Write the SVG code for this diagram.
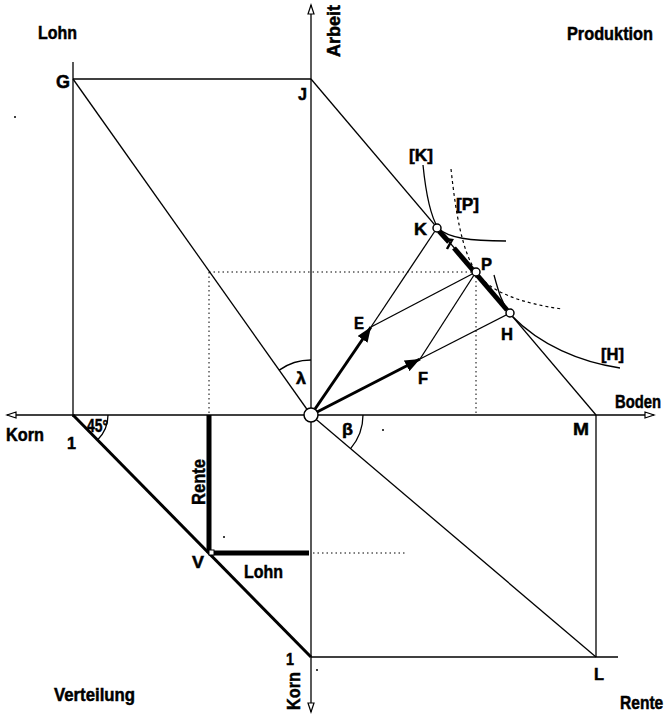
<svg xmlns="http://www.w3.org/2000/svg" width="668" height="714" viewBox="0 0 668 714">
<style>
.ln{stroke:#000;stroke-width:1.3;fill:none}
.th{stroke:#000;stroke-width:3;fill:none}
.tk{stroke:#000;stroke-width:5;fill:none}
.dt{stroke:#000;stroke-width:1;stroke-dasharray:1.5 3;fill:none}
.ds{stroke:#000;stroke-width:1.2;stroke-dasharray:3 3;fill:none}
.pt{fill:#fff;stroke:#000;stroke-width:1.5}
text{font-family:"Liberation Sans",Arial,sans-serif;font-weight:bold;font-size:19px;fill:#000;stroke:#000;stroke-width:0.5}
.sm{font-size:17px}
</style>
<defs>
<marker id="ax" markerWidth="12" markerHeight="10" refX="10" refY="4" orient="auto" markerUnits="userSpaceOnUse">
<path d="M1,1 L10,4 L1,7 Z" fill="#fff" stroke="#000" stroke-width="1.2"/>
</marker>
<marker id="ar" markerWidth="16" markerHeight="12" refX="15" refY="6" orient="auto" markerUnits="userSpaceOnUse">
<path d="M0,0 L15,6 L0,12 Z" fill="#000"/>
</marker>
</defs>
<g id="connectors">
<line class="ln" x1="311" y1="415" x2="311" y2="5" marker-end="url(#ax)"/>
<line class="ln" x1="311" y1="415" x2="311" y2="712" marker-end="url(#ax)"/>
<line class="ln" x1="311" y1="415" x2="7" y2="415" marker-end="url(#ax)"/>
<line class="ln" x1="311" y1="415" x2="654" y2="415" marker-end="url(#ax)"/>
<line class="ln" x1="73" y1="62" x2="73" y2="417"/>
<line class="ln" x1="73" y1="79" x2="311" y2="79"/>
<line class="ln" x1="73" y1="79" x2="311" y2="415"/>
<line class="ln" x1="311" y1="79" x2="596" y2="415"/>
<line class="ln" x1="596" y1="415" x2="596" y2="657"/>
<line class="ln" x1="311" y1="657" x2="618" y2="657"/>
<line class="ln" x1="311" y1="415" x2="596" y2="657"/>
<line class="th" x1="73" y1="415" x2="311" y2="657"/>
<line class="tk" x1="209" y1="415" x2="209" y2="553"/>
<line class="tk" x1="209" y1="553" x2="309" y2="553"/>
<line class="dt" x1="209" y1="272" x2="476" y2="272"/>
<line class="dt" x1="209" y1="272" x2="209" y2="413"/>
<line class="dt" x1="476" y1="272" x2="476" y2="413"/>
<line class="dt" x1="313" y1="553" x2="405" y2="553"/>
<line class="ln" x1="371" y1="327" x2="437" y2="228"/>
<line class="ln" x1="371" y1="327" x2="476" y2="272"/>
<line class="ln" x1="420" y1="359" x2="476" y2="272"/>
<line class="ln" x1="420" y1="359" x2="510" y2="313"/>
<line class="th" x1="315" y1="409" x2="371" y2="327" stroke-width="3.5" marker-end="url(#ar)"/>
<line class="th" x1="317" y1="412" x2="420" y2="359" stroke-width="3.5" marker-end="url(#ar)"/>
<line class="tk" x1="439" y1="231" x2="449" y2="242" stroke-width="5.5"/>
<polyline points="445,239 452,240 447,249" fill="none" stroke="#000" stroke-width="2.5"/>
<line class="tk" x1="454" y1="248" x2="507" y2="310" stroke-width="5.5"/>
<path class="ln" d="M423,165 C426,195 430,215 438,228 C448,238 470,241 506,241"/>
<path class="ds" d="M451,169 C456,215 462,250 476,272 C490,292 520,303 562,309"/>
<path class="ln" d="M494,275 C498,290 502,305 512,316 C540,345 580,362 620,368"/>
<path class="ln" d="M311,360 A55,55 0 0 0 279.2,370.1"/>
<path class="ln" d="M363,415 A52,52 0 0 1 350.6,448.6"/>
<path class="ln" d="M108,415 A35,35 0 0 1 97.7,439.7"/>
</g>
<g id="O"><circle class="pt" cx="311" cy="415" r="7" stroke-width="2.2"/></g>
<g id="K"><circle class="pt" cx="437" cy="228" r="4"/><text class="sm" x="414" y="235" textLength="13" lengthAdjust="spacingAndGlyphs">K</text></g>
<g id="P"><circle class="pt" cx="476" cy="272" r="4"/><text class="sm" x="481" y="270" textLength="11" lengthAdjust="spacingAndGlyphs">P</text></g>
<g id="H"><circle class="pt" cx="510" cy="313" r="4"/><text class="sm" x="501" y="340" textLength="12" lengthAdjust="spacingAndGlyphs">H</text></g>
<g id="E"><text class="sm" x="354" y="329" textLength="10" lengthAdjust="spacingAndGlyphs">E</text></g>
<g id="F"><text class="sm" x="418" y="384" textLength="10" lengthAdjust="spacingAndGlyphs">F</text></g>
<g id="V"><rect x="209" y="550" width="5" height="5" fill="#fff" stroke="#000" stroke-width="1"/><text class="sm" x="192" y="568" textLength="12" lengthAdjust="spacingAndGlyphs">V</text></g>
<g id="G"><text x="56" y="88" textLength="14" lengthAdjust="spacingAndGlyphs">G</text></g>
<g id="J"><text class="sm" x="298" y="100" textLength="9" lengthAdjust="spacingAndGlyphs">J</text></g>
<g id="M"><text class="sm" x="573" y="435" textLength="16" lengthAdjust="spacingAndGlyphs">M</text></g>
<g id="L"><text class="sm" x="594" y="680" textLength="10" lengthAdjust="spacingAndGlyphs">L</text></g>
<g id="one-left"><text class="sm" x="67" y="449" textLength="9" lengthAdjust="spacingAndGlyphs">1</text></g>
<g id="one-bottom"><text class="sm" x="286" y="665" textLength="8" lengthAdjust="spacingAndGlyphs">1</text></g>
<g id="curve-labels">
<text class="sm" x="409" y="161" textLength="24" lengthAdjust="spacingAndGlyphs">[K]</text>
<text class="sm" x="456" y="210" textLength="23" lengthAdjust="spacingAndGlyphs">[P]</text>
<text class="sm" x="601" y="360" textLength="23" lengthAdjust="spacingAndGlyphs">[H]</text>
</g>
<g id="angles">
<text class="sm" x="296" y="384" textLength="10" lengthAdjust="spacingAndGlyphs">λ</text>
<text class="sm" x="342" y="435" textLength="11" lengthAdjust="spacingAndGlyphs">β</text>
<text x="87" y="432" font-size="14" textLength="21" lengthAdjust="spacingAndGlyphs">45°</text>
</g>
<g id="titles">
<text x="38" y="39" textLength="39" lengthAdjust="spacingAndGlyphs">Lohn</text>
<text x="567" y="40" textLength="86" lengthAdjust="spacingAndGlyphs">Produktion</text>
<text transform="translate(615,408) scale(0.78,1)">Boden</text>
<text x="6" y="441" textLength="38" lengthAdjust="spacingAndGlyphs">Korn</text>
<text x="54" y="701" textLength="81" lengthAdjust="spacingAndGlyphs">Verteilung</text>
<text transform="translate(620,709) scale(0.82,1)">Rente</text>
<text x="244" y="578" textLength="39" lengthAdjust="spacingAndGlyphs">Lohn</text>
<text transform="translate(340,57) rotate(-90)" textLength="52" lengthAdjust="spacingAndGlyphs">Arbeit</text>
<text transform="translate(205,505) rotate(-90)" textLength="46" lengthAdjust="spacingAndGlyphs">Rente</text>
<text transform="translate(300,710) rotate(-90)" textLength="38" lengthAdjust="spacingAndGlyphs">Korn</text>
</g>
<g id="specks" fill="#000">
<circle cx="15" cy="117" r="1"/>
<circle cx="383" cy="430" r="1"/>
<circle cx="224" cy="537" r="1"/>
<circle cx="317" cy="670" r="1"/>
</g>
</svg>
